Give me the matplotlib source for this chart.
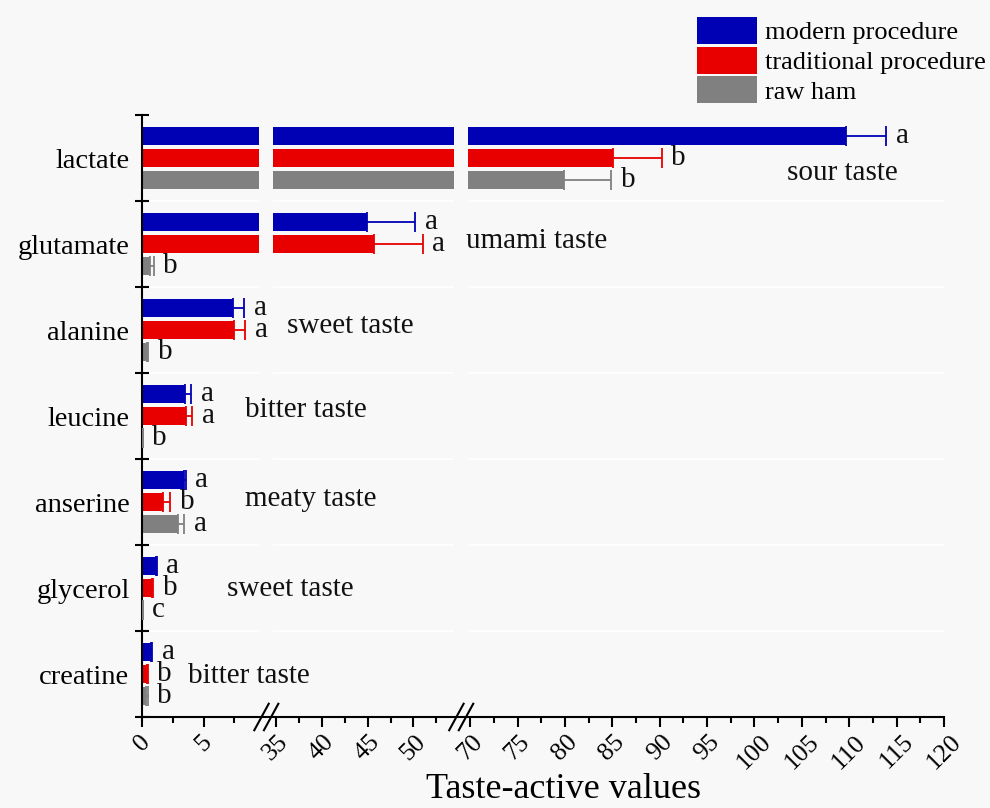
import numpy as np
import matplotlib.pyplot as plt
import matplotlib.transforms as mtransforms
from matplotlib.patches import Patch

plt.rcParams['font.family'] = ['Liberation Serif', 'DejaVu Serif']

# valori per composto
categorie = ['lactate', 'glutamate', 'alanine', 'leucine', 'anserine', 'glycerol', 'creatine']
moderno = [109.7, 44.9, 7.4, 3.5, 3.4, 1.1, 0.7]
moderno_err = [4.2, 5.3, 0.9, 0.5, 0.15, 0.1, 0.1]
tradizionale = [85.1, 45.7, 7.5, 3.6, 1.7, 0.8, 0.4]
tradizionale_err = [5.1, 5.3, 0.9, 0.5, 0.6, 0.1, 0.05]
crudo = [79.9, 0.65, 0.4, 0.05, 2.9, 0.05, 0.35]
crudo_err = [5.0, 0.3, 0.1, 0.0, 0.5, 0.0, 0.1]
lettere_moderno = ['a', 'a', 'a', 'a', 'a', 'a', 'a']
lettere_trad = ['b', 'a', 'a', 'a', 'b', 'b', 'b']
lettere_crudo = ['b', 'b', 'b', 'b', 'a', 'c', 'b']
gusti = ['sour taste', 'umami taste', 'sweet taste', 'bitter taste',
         'meaty taste', 'sweet taste', 'bitter taste']
tick_magg = [0, 5, 35, 40, 45, 50, 70, 75, 80, 85, 90, 95, 100, 105, 110, 115, 120]
tick_min = [2.5, 7.5, 37.5, 42.5, 47.5, 52.5, 72.5, 77.5, 82.5, 87.5, 92.5,
            97.5, 102.5, 107.5, 112.5, 117.5]

# posizioni delle scritte dei gusti (x in frazione d'asse, y come scarto dal gruppo)
gusti_x = [0.804, 0.404, 0.181, 0.128, 0.128, 0.106, 0.057]
gusti_dy = [0.17, -0.04, -0.05, -0.07, -0.04, 0.01, 0.02]

# asse x spezzato: tre tratti lineari con due interruzioni
xs = np.array([-50, 0, 9.5, 34.7, 54.4, 69.8, 120, 200])
us = np.array([-615, 0, 116.85, 131, 311.6, 326, 801.4, 1559])
def avanti(x):
    return np.interp(x, xs, us)
def indietro(u):
    return np.interp(u, us, xs)

blu = '#0000b5'
rosso = '#e80000'
grigio = '#808080'
sfondo = '#f8f8f8'

fig = plt.figure(figsize=(9.9, 8.08), dpi=100, facecolor=sfondo)
ax = fig.add_axes([142/990, 1-717/808, 802/990, 602/808])
ax.set_facecolor(sfondo)
ax.set_xscale('function', functions=(avanti, indietro))

y = np.arange(len(categorie))
h = 0.215
serie = [(moderno, moderno_err, lettere_moderno, blu, -0.255),
         (tradizionale, tradizionale_err, lettere_trad, rosso, 0.0),
         (crudo, crudo_err, lettere_crudo, grigio, 0.255)]
for val, err, lett, col, off in serie:
    ax.barh(y + off, val, height=h, color=col, zorder=2)
    ax.errorbar(val, y + off, xerr=[np.zeros(len(err)), err], fmt='none',
                ecolor=col, elinewidth=1.3, capsize=7, capthick=1.3, zorder=3)
    for i in range(len(val)):
        ax.annotate(lett[i], (val[i] + err[i], y[i] + off), xytext=(7, 0),
                    textcoords='offset points', ha='left', va='center',
                    fontsize=21, color='#111111', zorder=4)

# interruzioni delle barre
for a, b in [(9.5, 34.7), (54.4, 69.8)]:
    ax.axvspan(a, b, color=sfondo, zorder=2.5, lw=0)

for k in np.arange(0.5, 6.5, 1):
    ax.axhline(k, color='white', lw=1.2, zorder=0)

tr = mtransforms.blended_transform_factory(ax.transAxes, ax.transData)
for i in range(len(gusti)):
    ax.text(gusti_x[i], y[i] + gusti_dy[i], gusti[i], transform=tr,
            ha='left', va='center', fontsize=21, color='#111111')

ax.set_xlim(0, 120)
ax.set_ylim(6.5, -0.5)
ax.set_xticks(tick_magg)
ax.set_xticks(tick_min, minor=True)
ax.set_xticklabels([str(t) for t in tick_magg], rotation=45, ha='center', va='top',
                   fontsize=18.5)
ax.tick_params(axis='x', which='major', direction='out', length=7, width=1.5, pad=3)
ax.tick_params(axis='x', which='minor', direction='out', length=4, width=1.5)
ax.set_yticks(y)
ax.set_yticklabels(categorie, fontsize=20.5)
ax.set_yticks(np.arange(-0.5, 7, 1), minor=True)
ax.tick_params(axis='y', which='major', length=0, pad=9)
ax.tick_params(axis='y', which='minor', direction='inout', length=10, width=1.5)
ax.set_xlabel('Taste-active values', fontsize=26)
ax.xaxis.set_label_coords(0.525, -0.093)

ax.spines['top'].set_visible(False)
ax.spines['right'].set_visible(False)
ax.spines['left'].set_linewidth(1.5)
ax.spines['bottom'].set_linewidth(1.5)

# segni // sull'asse x
for xc in [0.155, 0.398]:
    for dx in [-0.006, 0.006]:
        ax.plot([xc + dx - 0.009, xc + dx + 0.009], [-0.022, 0.022],
                transform=ax.transAxes, color='black', lw=1.5, clip_on=False, zorder=5)

maniglie = [Patch(facecolor=blu, label='modern procedure'),
            Patch(facecolor=rosso, label='traditional procedure'),
            Patch(facecolor=grigio, label='raw ham')]
fig.legend(handles=maniglie, loc='upper left', bbox_to_anchor=(697/990, 1-17/808),
           bbox_transform=fig.transFigure, frameon=False, fontsize=19,
           handlelength=2.27, handleheight=1.2, handletextpad=0.3,
           labelspacing=0.08, borderpad=0, borderaxespad=0)

fig.savefig('out.png', dpi=100, facecolor=sfondo)
